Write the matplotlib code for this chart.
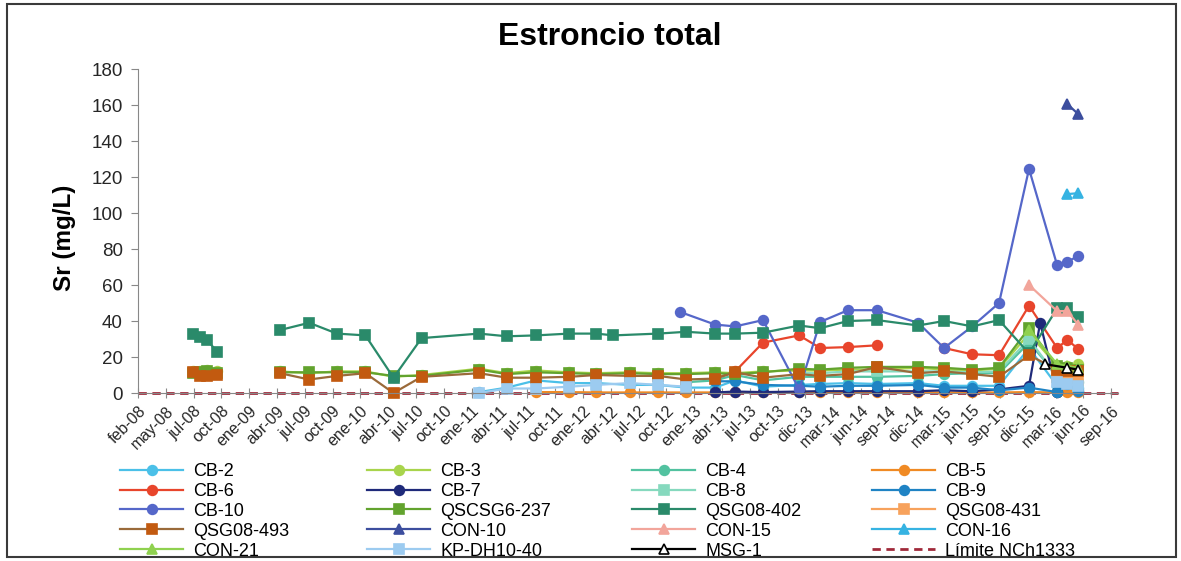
import numpy as np
import matplotlib
matplotlib.use("Agg")
import matplotlib.pyplot as plt
import matplotlib.dates as mdates
from matplotlib.patches import Rectangle
import datetime as dt

plt.rcParams["font.family"] = ["Liberation Sans", "DejaVu Sans"]

nan = np.nan

# ---- datos (Sr total, mg/L) ----
# QSG08-402
qsg402_d = ["2008-07-28", "2008-08-19", "2008-09-11", "2008-10-14", "2009-01-15",
            "2009-05-06", "2009-08-08", "2009-11-06", "2010-02-06", "2010-05-08", "2010-08-07",
            "2011-02-09", "2011-05-10", "2011-08-12", "2011-11-27", "2012-02-24", "2012-04-19",
            "2012-09-10", "2012-12-10", "2013-03-14", "2013-05-18", "2013-08-16", "2013-12-11",
            "2014-02-17", "2014-05-18", "2014-08-20", "2014-12-31", "2015-03-25", "2015-06-24",
            "2015-09-19", "2015-12-25", "2016-03-25", "2016-04-27", "2016-06-01"]
qsg402_v = [33, 31, 29.5, 23, nan,
            35, 39, 33, 32, 8.5, 30.5,
            33, 31.5, 32, 33, 33, 32,
            33, 34, 33, 33, 33.5, 37.5,
            36, 40, 40.5, 37.5, 40, 37,
            40.5, 22, 47, 47, 42]

# CB-10
cb10_d = ["2012-11-21", "2013-03-14", "2013-05-18", "2013-08-16", "2013-12-11", "2014-02-17",
          "2014-05-18", "2014-08-20", "2014-12-31", "2015-03-25", "2015-06-24", "2015-09-19",
          "2015-12-25", "2016-03-25", "2016-04-27", "2016-06-01"]
cb10_v = [45, 38, 37, 40.5, 2, 39.5, 46, 46, 39, 25, 37, 50, 124.5, 71, 73, 76]

# CB-6
cb6_d = ["2013-03-14", "2013-05-18", "2013-08-16", "2013-12-11", "2014-02-17", "2014-05-18",
         "2014-08-20", "2014-12-31", "2015-03-25", "2015-06-24", "2015-09-19", "2015-12-25",
         "2016-03-25", "2016-04-27", "2016-06-01"]
cb6_v = [8, 12, 28, 32, 25, 25.5, 26.5, nan, 25, 21.5, 21, 48.5, 25, 29.5, 24.5]

# CB-7
cb7_d = ["2013-03-14", "2013-05-18", "2013-08-16", "2013-12-11", "2014-02-17", "2014-05-18",
         "2014-08-20", "2014-12-31", "2015-03-25", "2015-06-24", "2015-09-19", "2015-12-25",
         "2016-01-30", "2016-03-25"]
cb7_v = [0.3, 0.8, 0.5, 0.8, 1, 1, 1, 1, 1.5, 1, 2, 4, 39, 0.5]

# CB-9
cb9_d = ["2013-03-14", "2013-05-18", "2013-08-16", "2013-12-11", "2014-02-17", "2014-05-18",
         "2014-08-20", "2014-12-31", "2015-03-25", "2015-06-24", "2015-09-19", "2015-12-25",
         "2016-03-25", "2016-04-27", "2016-06-01"]
cb9_v = [6.5, 6.5, 4.5, 4, 3.5, 4, 4, 4.5, 3, 3, 1.5, 3, 0.5, 5, 1]

# CB-5
cb5_d = ["2011-08-12", "2011-11-27", "2012-02-24", "2012-06-11", "2012-09-10", "2012-12-10",
         "2013-03-14", "2013-05-18", "2013-08-16", "2013-12-11", "2014-02-17", "2014-05-18",
         "2014-08-20", "2014-12-31", "2015-03-25", "2015-06-24", "2015-09-19", "2015-12-25",
         "2016-03-25", "2016-04-27", "2016-06-01"]
cb5_v = [0.5, 0.5, 0.3, 0.3, 0.3, 0.3, 0.3, 0.3, 0.3, 0.3, 0.3, 0.3,
         0.3, 0.3, 0.3, 0.3, 0.3, 0.5, 0.3, 0.3, 0.3]

# fechas compartidas por varios pozos
d_11_16 = ["2011-02-09", "2011-05-10", "2011-08-12", "2011-11-27", "2012-02-24", "2012-06-11",
           "2012-09-10", "2012-12-10", "2013-03-14", "2013-05-18", "2013-08-16", "2013-12-11",
           "2014-02-17", "2014-05-18", "2014-08-20", "2014-12-31", "2015-03-25", "2015-06-24",
           "2015-09-19", "2015-12-25", "2016-03-25", "2016-04-27", "2016-06-01"]
d_08_10 = ["2008-07-28", "2008-08-19", "2008-09-11", "2008-10-14", "2009-01-15",
           "2009-05-06", "2009-08-08", "2009-11-06", "2010-02-06", "2010-05-08", "2010-08-07"]

# QSG08-493
qsg493_d = d_08_10 + d_11_16
qsg493_v = [11.5, 9.5, 9.5, 10, nan, 11, 7.5, 9.5, 11, 0, 9,
            11, 8.5, 8.5, 9, 10, 9.5, 9.5, 7.5, 8, 11.5, 8.5, 10.5,
            9.5, 10.5, 14.5, 11, 12, 10.5, 9, 21, 13, 12.5, 12]

# QSCSG6-237
qscsg237_d = d_08_10 + d_11_16
qscsg237_v = [11, 11.5, 12.5, 11, nan, 11.5, 11.5, 11.5, 11.5, 9.5, 9.5,
              13, 10.5, 11.5, 11, 10.5, 11, 10.5, 10.5, 11, 10.5, 11.5, 13.5,
              13, 14, 14.5, 14.5, 14, 13, 14, 36, 15, 14, 13]

# CB-3
cb3_d = d_08_10 + d_11_16
cb3_v = [12, 12, 13, 12, nan, 12, 11, 12, 12, 9, 10,
         13.5, 11, 12.5, 11.5, 11, 11.5, 11, 11, 11.5, 11, 12, 12.5,
         12.5, 13, 13, 14, 13, 12.5, 13.5, 33, 15, 15, 16]

# CB-4
cb4_d = ["2012-12-10", "2013-03-14", "2013-05-18", "2013-08-16", "2013-12-11", "2014-02-17",
         "2014-05-18", "2014-08-20", "2014-12-31", "2015-03-25", "2015-06-24", "2015-09-19",
         "2015-12-25", "2016-03-25", "2016-04-27", "2016-06-01"]
cb4_v = [6, 7, 10, 7, 9, 9, 9, 9, 9.5, 10.5, 11, 11, 28, 10, 8, 6]

# CB-8
cb8_d = ["2013-12-11", "2014-02-17", "2014-05-18", "2014-08-20", "2014-12-31", "2015-03-25",
         "2015-06-24", "2015-09-19", "2015-12-25", "2016-03-25", "2016-04-27", "2016-06-01"]
cb8_v = [11, 11, 12, 12, 12, 12, 11.5, 12, 30, 9, 7, 4]

# CB-2
cb2_d = d_11_16
cb2_v = [0.5, 3, 7, 5.5, 5.5, 4.5, 4.5, 3, 3, 7, 3.5, 4.5,
         5, 5.5, 5, 5.5, 4, 4, 4, 25, 4, 3, 3]

# KP-DH10-40
kp_d = ["2011-02-09", "2011-05-10", "2011-08-12", "2011-11-27", "2012-02-24", "2012-06-11",
        "2012-09-10", "2012-12-10", "2014-01-01", "2016-03-25", "2016-04-27", "2016-06-01"]
kp_v = [0, 2.5, 2.5, 3.5, 4.5, 5.5, 4.5, 3.5, nan, 6, 5, 4]

# QSG08-431
qsg431_d = ["2016-03-25", "2016-04-27", "2016-06-01"]
qsg431_v = [9, 8, 7]

# CON-10, CON-15, CON-16, CON-21, MSG-1
con10_d = ["2016-04-27", "2016-06-01"]
con10_v = [160.5, 155]
con15_d = ["2015-12-25", "2016-03-25", "2016-04-27", "2016-06-01"]
con15_v = [60, 45.5, 45.5, 38]
con16_d = ["2016-04-27", "2016-06-01"]
con16_v = [110.5, 111]
con21_d = ["2015-12-25", "2016-03-25", "2016-04-27", "2016-06-01"]
con21_v = [35, 16, 15, 14]
msg1_d = ["2016-02-15", "2016-04-27", "2016-06-01"]
msg1_v = [16, 14, 13]

# limite NCh1333
lim_d = ["2008-02-01", "2016-10-08"]
lim_v = [0, 0]

meses = ["ene", "feb", "mar", "abr", "may", "jun", "jul", "ago", "sep", "oct", "nov", "dic"]

# (etiqueta, fechas, valores, color linea, marcador, color marcador, relleno)
series = [
    ("CB-2", cb2_d, cb2_v, "#4BC0E8", "o", "#4BC0E8", None),
    ("CB-3", cb3_d, cb3_v, "#A8D44C", "o", "#A8D44C", None),
    ("CB-4", cb4_d, cb4_v, "#52C2A0", "o", "#52C2A0", None),
    ("CB-5", cb5_d, cb5_v, "#F08A24", "o", "#F08A24", None),
    ("CB-6", cb6_d, cb6_v, "#E8452C", "o", "#E8452C", None),
    ("CB-7", cb7_d, cb7_v, "#1F2A7A", "o", "#1F2A7A", None),
    ("CB-8", cb8_d, cb8_v, "#86D9BE", "s", "#86D9BE", None),
    ("CB-9", cb9_d, cb9_v, "#1F83C4", "o", "#1F83C4", None),
    ("CB-10", cb10_d, cb10_v, "#5567C9", "o", "#5567C9", None),
    ("QSCSG6-237", qscsg237_d, qscsg237_v, "#62A32E", "s", "#62A32E", None),
    ("QSG08-402", qsg402_d, qsg402_v, "#2A8A6A", "s", "#2A8A6A", None),
    ("QSG08-431", qsg431_d, qsg431_v, "#F7A25C", "s", "#F7A25C", None),
    ("QSG08-493", qsg493_d, qsg493_v, "#9A6A3A", "s", "#C25A10", None),
    ("CON-10", con10_d, con10_v, "#3C4E9E", "^", "#3C4E9E", None),
    ("CON-15", con15_d, con15_v, "#F2A59B", "^", "#F2A59B", None),
    ("CON-16", con16_d, con16_v, "#36B3E2", "^", "#36B3E2", None),
    ("CON-21", con21_d, con21_v, "#8FD14F", "^", "#8FD14F", None),
    ("KP-DH10-40", kp_d, kp_v, "#9CCBF0", "s", "#9CCBF0", None),
    ("MSG-1", msg1_d, msg1_v, "#000000", "^", "#000000", "white"),
]

W, H = 1181, 561
fig = plt.figure(figsize=(W / 100, H / 100), dpi=100)
ax = fig.add_axes([138 / W, 1 - 393 / H, (1118 - 138) / W, (393 - 69) / H])

handles = []
for lab, d, v, lc, mk, mc, face in series:
    x = np.array(d, dtype="datetime64[D]")
    h, = ax.plot(x, np.array(v, dtype=float), color=lc, lw=1.6, marker=mk, ms=7,
                 mfc=face if face else mc, mec=mc, mew=1.2, clip_on=False, label=lab)
    handles.append(h)

hl, = ax.plot(np.array(lim_d, dtype="datetime64[D]"), lim_v, color="#A0293A", lw=2,
              ls=(0, (3, 2)), clip_on=False, label="Límite NCh1333", zorder=1)
handles.append(hl)

x0 = dt.date(2008, 2, 1)
ticks = [x0 + dt.timedelta(days=90 * k) for k in range(36)]
ax.set_xlim(mdates.date2num(dt.date(2008, 2, 1)), mdates.date2num(dt.date(2016, 10, 8)))
ax.set_xticks(mdates.date2num(ticks))
ax.set_xticklabels([f"{meses[t.month - 1]}-{t.year % 100:02d}" for t in ticks],
                   rotation=45, ha="right", rotation_mode="anchor", fontsize=11.5, color="#262626")
ax.set_ylim(0, 180)
ax.set_yticks(np.arange(0, 181, 20))
ax.tick_params(axis="y", labelsize=13.5, labelcolor="#262626", color="#888888", length=5, pad=6)
ax.tick_params(axis="x", direction="inout", length=7, color="#888888", pad=4)
for s in ["top", "right"]:
    ax.spines[s].set_visible(False)
for s in ["left", "bottom"]:
    ax.spines[s].set_color("#888888")

fig.text(610 / W, 1 - 37 / H, "Estroncio total", ha="center", va="center",
         fontsize=23, fontweight="bold")
fig.text(64 / W, 1 - 238 / H, "Sr (mg/L)", ha="center", va="center", rotation=90,
         fontsize=17.5, fontweight="bold")

# leyenda en 4 columnas (orden por filas)
col_x = [120, 367, 632, 872]
for c in range(4):
    hh = handles[c::4]
    fig.legend(hh, [h.get_label() for h in hh], loc="upper left",
               bbox_to_anchor=(col_x[c] / W, 1 - 463 / H), frameon=False,
               fontsize=13, handlelength=3.5, handletextpad=0.55, labelspacing=0.16,
               borderpad=0, borderaxespad=0)

fig.patches.append(Rectangle((7 / W, 1 - 557 / H), (1176 - 7) / W, (557 - 4) / H,
                             transform=fig.transFigure, fill=False, ec="#3A3A3A", lw=1.5))

fig.savefig("out.png", dpi=100)
